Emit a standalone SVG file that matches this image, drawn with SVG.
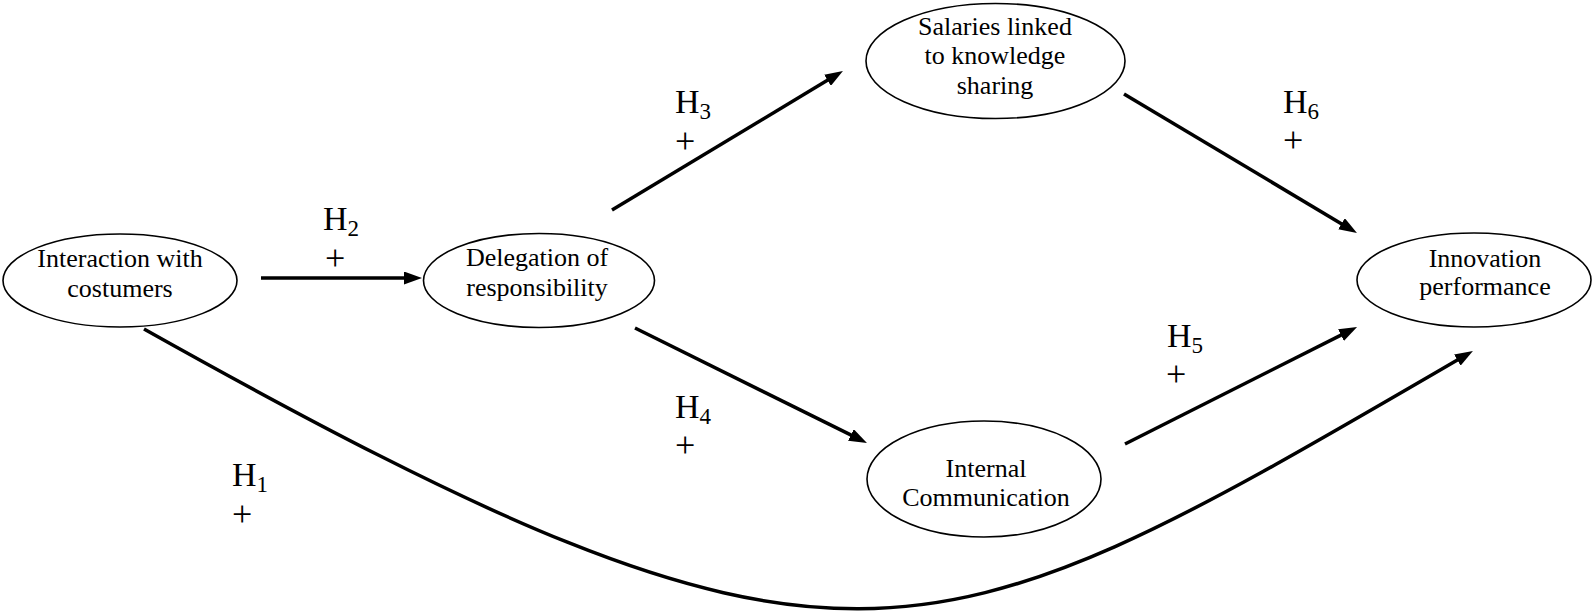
<svg xmlns="http://www.w3.org/2000/svg" width="1596" height="613" viewBox="0 0 1596 613">
<style>
.node ellipse{fill:#fff;stroke:#000;stroke-width:1.6}
.node text{font-family:"Liberation Serif","Times New Roman",serif;font-size:26px;text-anchor:middle;fill:#000}
.lbl{font-family:"Liberation Serif","Times New Roman",serif;font-size:34px;fill:#000}
.lbl tspan{font-size:23px}
.plus{font-family:"Liberation Serif","Times New Roman",serif;font-size:36px;fill:#000}
.conn{fill:none;stroke:#000;stroke-width:3.5}
</style>
<defs>
<marker id="ah" markerUnits="userSpaceOnUse" markerWidth="18" markerHeight="13" refX="10" refY="6.5" orient="auto">
<path d="M0,0 L18,6.5 L0,13 z" fill="#000"/>
</marker>
</defs>
<rect width="1596" height="613" fill="#fff"/>
<g id="connectors">
<line class="conn" x1="261" y1="278" x2="414" y2="278" marker-end="url(#ah)"/>
<line class="conn" x1="612" y1="210" x2="836.1" y2="75.1" marker-end="url(#ah)"/>
<line class="conn" x1="635" y1="328" x2="859.8" y2="439.4" marker-end="url(#ah)"/>
<line class="conn" x1="1124" y1="94" x2="1350.1" y2="228.9" marker-end="url(#ah)"/>
<line class="conn" x1="1125" y1="444" x2="1349.9" y2="330.6" marker-end="url(#ah)"/>
<path class="conn" d="M144,329 C854,727 927,668 1466,355" marker-end="url(#ah)"/>
</g>
<g id="labels">
<text class="lbl" x="232" y="486">H<tspan dy="6">1</tspan></text>
<text class="plus" x="232" y="526">+</text>
<text class="lbl" x="323" y="230">H<tspan dy="6">2</tspan></text>
<text class="plus" x="325" y="270">+</text>
<text class="lbl" x="675" y="113">H<tspan dy="6">3</tspan></text>
<text class="plus" x="675" y="153">+</text>
<text class="lbl" x="675" y="418">H<tspan dy="6">4</tspan></text>
<text class="plus" x="675" y="457">+</text>
<text class="lbl" x="1167" y="347">H<tspan dy="6">5</tspan></text>
<text class="plus" x="1166" y="386">+</text>
<text class="lbl" x="1283" y="113">H<tspan dy="6">6</tspan></text>
<text class="plus" x="1283" y="152">+</text>
</g>
<g id="node-interaction" class="node">
<ellipse cx="120" cy="280.5" rx="117" ry="46.5"/>
<text x="120" y="267">Interaction with</text>
<text x="120" y="297">costumers</text>
</g>
<g id="node-delegation" class="node">
<ellipse cx="539" cy="280.5" rx="115.5" ry="47"/>
<text x="537" y="266">Delegation of</text>
<text x="537" y="296">responsibility</text>
</g>
<g id="node-salaries" class="node">
<ellipse cx="995.5" cy="61" rx="129.5" ry="57.5"/>
<text x="995" y="35">Salaries linked</text>
<text x="995" y="64">to knowledge</text>
<text x="995" y="94">sharing</text>
</g>
<g id="node-internal" class="node">
<ellipse cx="984" cy="479" rx="117" ry="58"/>
<text x="986" y="477">Internal</text>
<text x="986" y="506">Communication</text>
</g>
<g id="node-innovation" class="node">
<ellipse cx="1474" cy="280" rx="117" ry="47"/>
<text x="1485" y="267">Innovation</text>
<text x="1485" y="295">performance</text>
</g>
</svg>
